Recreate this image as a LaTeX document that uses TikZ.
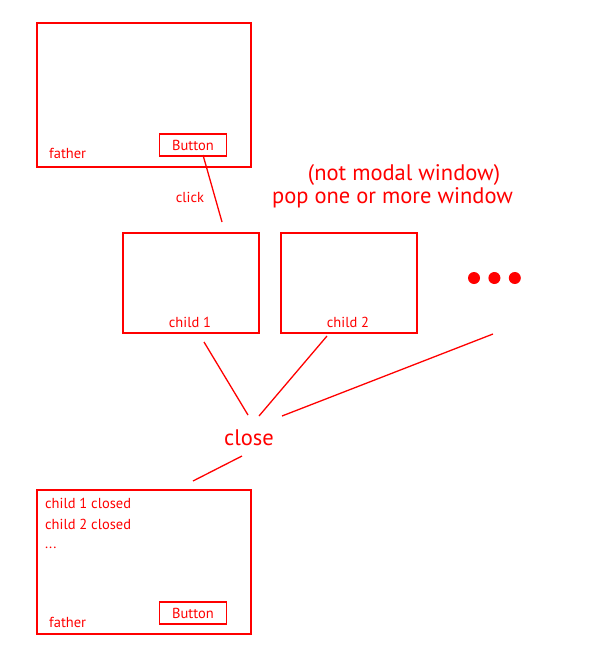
\documentclass[tikz,border=0pt]{standalone}
\usepackage{fontspec}
\setmainfont{PT Sans}
\usetikzlibrary{positioning}

\begin{document}
\begin{tikzpicture}[
  x=1pt, y=-1pt,
  win/.style={draw=red, line width=1.5pt, inner sep=0pt, anchor=north west,
              minimum width=214pt, minimum height=144pt},
  kid/.style={win, minimum width=136pt, minimum height=100pt},
  btn/.style={draw=red, line width=1.2pt, inner sep=0pt, text=red,
              minimum width=67pt, minimum height=22pt, font=\fontsize{14.5}{16}\selectfont},
  lbl/.style={text=red, inner sep=0pt, font=\fontsize{14.5}{16}\selectfont},
  big/.style={text=red, inner sep=0pt, font=\fontsize{22.5}{24}\selectfont},
  wire/.style={draw=red, line width=1.3pt},
  dot/.style={circle, fill=red, inner sep=0pt, minimum size=12pt}
]
\useasboundingbox (0,0) rectangle (600,664);

% ── Father window (before) ───────────────────────────────────────────────────
\node[win] (fatherA) at (36,22) {};
\node[lbl, anchor=base west] (fatherlblA) at (49,158) {father};
\node[btn] (btnA) at (193,145) {Button};
\node[lbl, anchor=base] (click) at (190,202) {click};

% ── Popped children ──────────────────────────────────────────────────────────
\node[big, anchor=base] (modal) at (404,180) {(not modal window)};
\node[big, anchor=base west] (pop) at (272,203) {pop one or more window};

\node[kid] (child1) at (122,232) {};
\node[lbl, anchor=base] at (190,327) {child 1};
\node[kid] (child2) at (280,232) {};
\node[lbl, anchor=base] at (348,327) {child 2};

\node[dot] (dot1) at (474,278) {};
\node[dot, right=8pt of dot1] (dot2) {};
\node[dot, right=8pt of dot2] (dot3) {};

% ── Close ────────────────────────────────────────────────────────────────────
\node[big, anchor=base] (close) at (249,445) {close};

\coordinate (clickA) at (203,155);
\coordinate (clickB) at (222,222);
\coordinate (c1top) at (204,342);
\coordinate (c1end) at (248,415);
\coordinate (c2top) at (327,336);
\coordinate (c2end) at (259,416);
\coordinate (c3top) at (493,334);
\coordinate (c3end) at (282,416);
\coordinate (backA) at (242,456);
\coordinate (backB) at (193,481);

\draw[wire] (clickA) -- (clickB);
\draw[wire] (c1top) -- (c1end);
\draw[wire] (c2top) -- (c2end);
\draw[wire] (c3top) -- (c3end);
\draw[wire] (backA) -- (backB);

% ── Father window (after) ────────────────────────────────────────────────────
\node[win] (fatherB) at (36,489) {};
\node[lbl, anchor=base west] (closed1) at (45,508) {child 1 closed};
\node[lbl, anchor=base west] (closed2) at (45,529) {child 2 closed};
\node[lbl, anchor=base west] (more) at (45,548) {...};
\node[lbl, anchor=base west] (fatherlblB) at (49,627) {father};
\node[btn] (btnB) at (193,613) {Button};

\end{tikzpicture}
\end{document}
